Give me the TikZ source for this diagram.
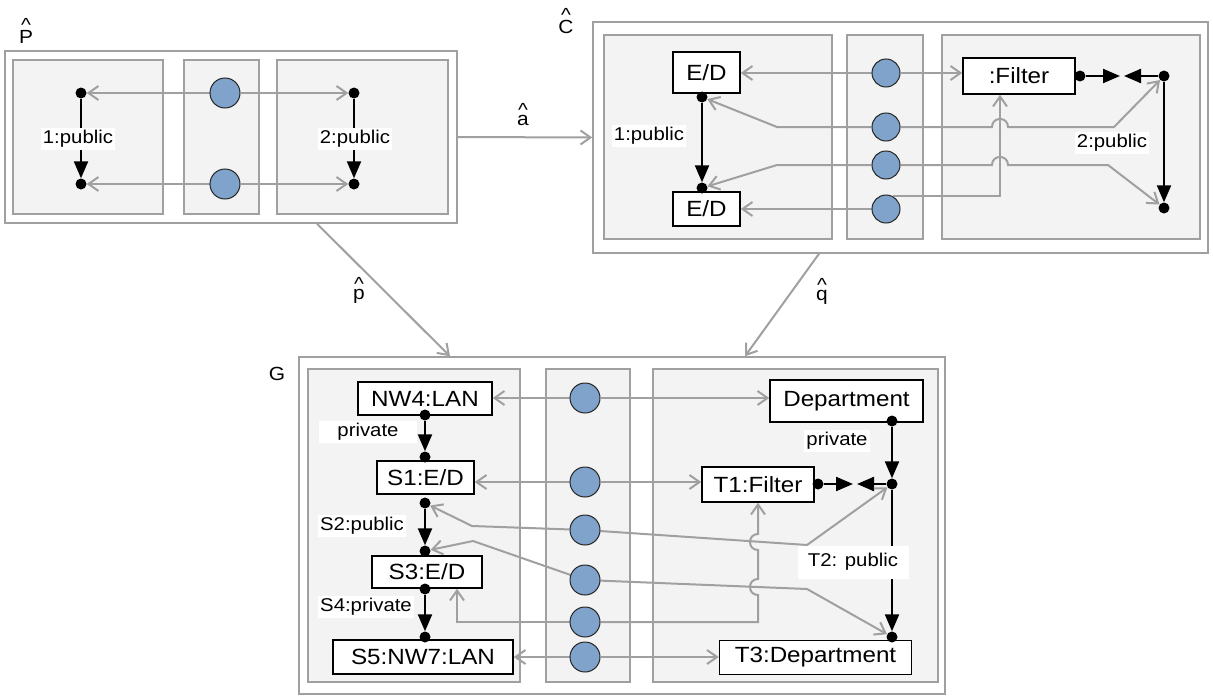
\documentclass[tikz,border=0pt]{standalone}
\usepackage{fontspec}
\setmainfont{Liberation Sans}[FakeStretch=1.1]
\usetikzlibrary{arrows.meta,calc}
\definecolor{gcol}{RGB}{160,160,160}
\definecolor{panelcol}{RGB}{243,243,243}
\definecolor{bluecol}{RGB}{127,163,203}
\pgfdeclarelayer{front}
\pgfsetlayers{main,front}
\newcommand\hatted[1]{\vbox{\offinterlineskip\halign{\hfil##\hfil\cr\textasciicircum\cr\noalign{\kern-2pt}#1\cr}}}
\begin{document}
\begin{tikzpicture}[x=1pt,y=-1pt,
  outerbox/.style={draw=gcol, line width=1.5pt, inner sep=0pt},
  panel/.style={draw=gcol, fill=panelcol, line width=1.5pt},
  gline/.style={draw=gcol, line width=2pt},
  garrow/.style={gline, -{Straight Barb[length=10pt,width=14pt,line width=2pt]}},
  barrow/.style={draw=black, line width=2.2pt, -{Triangle[length=17pt,width=14pt]}},
  dot/.style={circle, fill=black, inner sep=0pt, minimum size=11pt},
  circ/.style={circle, draw=black!85, fill=bluecol, line width=1pt, inner sep=0pt, minimum size=30pt},
  box/.style={draw=black, fill=white, line width=1.5pt, inner sep=0pt, font=\fontsize{22}{26}\selectfont},
  lab/.style={fill=white, inner sep=2pt, font=\fontsize{18.5}{22}\selectfont},
  hatlab/.style={inner sep=0pt, font=\fontsize{19}{22}\selectfont}
]
\useasboundingbox (0,0) rectangle (1213,696);

% outer frames
\node[outerbox, minimum width=452pt, minimum height=172pt] (Pbox) at (231,137) {};
\node[outerbox, minimum width=615pt, minimum height=231pt] (Cbox) at (900.5,137.5) {};
\node[outerbox, minimum width=646pt, minimum height=337pt] (Gbox) at (622,525.5) {};

% titles
\node[hatlab, anchor=base] (Plab) at (26,43) {\hatted{P}};
\node[hatlab, anchor=base] (Clab) at (566,33) {\hatted{C}};
\node[hatlab, anchor=base] (Glab) at (277,380) {G};
\node[hatlab, anchor=base] (alab) at (523,125) {\hatted{a}};
\node[hatlab, anchor=base] (plab) at (359,299) {\hatted{p}};
\node[hatlab, anchor=base] (qlab) at (822,300) {\hatted{q}};

% panels
\draw[panel] (13,60) rectangle (163,214);
\draw[panel] (184,60) rectangle (259,214);
\draw[panel] (277,60) rectangle (448,214);
\draw[panel] (604,35) rectangle (832,239);
\draw[panel] (847,35) rectangle (923,239);
\draw[panel] (942,35) rectangle (1200,239);
\draw[panel] (308,369) rectangle (520,682);
\draw[panel] (546,369) rectangle (630,682);
\draw[panel] (653,369) rectangle (938,682);

% morphisms between frames
\draw[garrow] (Pbox.east) -- (Cbox.west);
\draw[garrow] ([xshift=86pt]Pbox.south) -- ([xshift=-172pt]Gbox.north);
\draw[garrow] ([xshift=-81.5pt]Cbox.south) -- ([xshift=123pt]Gbox.north);

\begin{pgfonlayer}{front}
% ---- P nodes
\node[dot] (pd1) at (81,93) {};
\node[dot] (pd2) at (81,184) {};
\node[dot] (pd3) at (354,93) {};
\node[dot] (pd4) at (354,184) {};
\node[circ] (pc1) at (225,93) {};
\node[circ] (pc2) at (225,184) {};
% ---- C nodes
\node[box, minimum width=67pt, minimum height=41pt] (ed1) at (706.5,72.5) {E/D};
\node[box, minimum width=67pt, minimum height=34pt] (ed2) at (706.5,209) {E/D};
\node[dot] (ed1d) at (702,97) {};
\node[dot] (ed2d) at (702,188) {};
\node[box, minimum width=112pt, minimum height=36pt] (filter) at (1019,76) {:Filter};
\node[dot] (fd1) at (1080,76) {};
\node[dot] (fd2) at (1164,76) {};
\node[dot] (fd3) at (1164,208) {};
\node[circ, minimum size=28pt] (cc1) at (886,73) {};
\node[circ, minimum size=28pt] (cc2) at (886,127) {};
\node[circ, minimum size=28pt] (cc3) at (886,165) {};
\node[circ, minimum size=28pt] (cc4) at (886,209) {};
% ---- G nodes
\node[box, minimum width=134pt, minimum height=33pt] (nw4) at (425,398.5) {NW4:LAN};
\node[box, minimum width=97pt, minimum height=33pt] (s1) at (425.5,477.5) {S1:E/D};
\node[box, minimum width=110pt, minimum height=32pt] (s3) at (427,572) {S3:E/D};
\node[box, minimum width=180pt, minimum height=34pt] (s5) at (423,657) {S5:NW7:LAN};
\node[box, minimum width=153pt, minimum height=42pt] (dept) at (846.5,401) {Department};
\node[box, minimum width=112pt, minimum height=35pt] (t1) at (758,484.5) {T1:Filter};
\node[box, minimum width=192pt, minimum height=34pt] (t3) at (815.5,657.5) {T3:Department};
\node[dot] (g1) at (425,415) {};
\node[dot] (g2) at (425,457) {};
\node[dot] (g3) at (425,503) {};
\node[dot] (g4) at (425,551) {};
\node[dot] (g5) at (425,589) {};
\node[dot] (g6) at (425,637) {};
\node[dot] (dd1) at (892,421) {};
\node[dot] (dd2) at (892,484) {};
\node[dot] (dd3) at (892,637) {};
\node[dot] (td1) at (818,484) {};
\node[circ] (gc1) at (585,398) {};
\node[circ] (gc2) at (585,482) {};
\node[circ] (gc3) at (585,530) {};
\node[circ] (gc4) at (585,580) {};
\node[circ] (gc5) at (585,622) {};
\node[circ] (gc6) at (585,657) {};
\end{pgfonlayer}

\coordinate (fa1) at (1120,76);
\coordinate (fa2) at (1124,76);
\coordinate (ta1) at (853,484);
\coordinate (ta2) at (857,484);

% ---- P connectors
\draw[barrow] (pd1) -- (pd2);
\draw[barrow] (pd3) -- (pd4);
\draw[garrow] (pc1) -- (pd1);
\draw[garrow] (pc1) -- (pd3);
\draw[garrow] (pc2) -- (pd2);
\draw[garrow] (pc2) -- (pd4);

% ---- C connectors
\draw[barrow] (ed1d) -- (ed2d);
\draw[barrow] (fd1) -- (fa1);
\draw[barrow] (fd2) -- (fa2);
\draw[barrow] (fd2) -- (fd3);
\draw[garrow] (cc1) -- (cc1 -| ed1.east);
\draw[garrow] (cc1) -- (cc1 -| filter.west);
\draw[garrow] (cc2) -- (777,127) -- (ed1d);
\draw[garrow] (cc2) -- (992,127) .. controls (992,116.3) and (1008,116.3) .. (1008,127) -- (1114,127) -- (fd2);
\draw[garrow] (cc3) -- (777,165) -- (ed2d);
\draw[garrow] (cc3) -- (992,165) .. controls (992,154.3) and (1008,154.3) .. (1008,165) -- (1108,165) -- (fd3);
\draw[garrow] (cc4) -- (cc4 -| ed2.east);
\draw[garrow] (cc4.60) -| ([xshift=-19pt]filter.south);

% ---- G connectors
\draw[barrow] (g1) -- (g2);
\draw[barrow] (g3) -- (g4);
\draw[barrow] (g5) -- (g6);
\draw[barrow] (dd1) -- (dd2);
\draw[barrow] (td1) -- (ta1);
\draw[barrow] (dd2) -- (ta2);
\draw[barrow] (dd2) -- (dd3);
\draw[garrow] (gc1) -- (gc1 -| nw4.east);
\draw[garrow] (gc1) -- (gc1 -| dept.west);
\draw[garrow] (gc2) -- (gc2 -| s1.east);
\draw[garrow] (gc2) -- (gc2 -| t1.west);
\draw[garrow] (gc3) -- (472,526) -- (g3);
\draw[garrow] (gc3) -- (807,545) -- (dd2);
\draw[garrow] (gc4) -- (473,541) -- (g4);
\draw[garrow] (gc4) -- (807,589) -- (dd3);
\draw[garrow] (gc5) -- (457,622) -- ([xshift=30pt]s3.south);
\draw[garrow] (gc5) -- (758,622) -- (758,595) .. controls (747.3,595) and (747.3,579) .. (758,579) -- (758,550) .. controls (747.3,550) and (747.3,534) .. (758,534) -- (t1);
\draw[garrow] (gc6) -- (gc6 -| s5.east);
\draw[garrow] (gc6) -- (gc6 -| t3.west);

% ---- labels
\begin{pgfonlayer}{front}
\node[lab] (lp1) at (78,139) {1:public};
\node[lab] (lp2) at (355,139) {2:public};
\node[lab] (lc1) at (649,136) {1:public};
\node[lab] (lc2) at (1112,143) {2:public};
\node[lab, minimum width=98pt] (lg1) at (368,432) {private};
\node[lab] (lg2) at (362,526) {S2:public};
\node[lab] (lg3) at (366,607) {S4:private};
\node[lab] (lg4) at (837,441) {private};
\node[lab, minimum width=111pt, minimum height=33pt] (lg5) at (853,562) {T2: public};
\end{pgfonlayer}
\end{tikzpicture}
\end{document}
